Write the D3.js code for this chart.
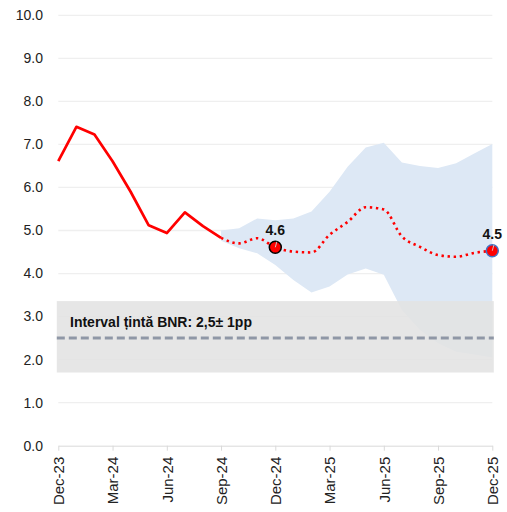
<!DOCTYPE html>
<html>
<head>
<meta charset="utf-8">
<script src="https://cdn.jsdelivr.net/npm/d3@7"></script>
<style>
  body { margin: 0; background: #fff; }
  svg { font-family: "Liberation Sans", Arial, sans-serif; }
</style>
</head>
<body>
<svg id="chart"></svg>
<script>
// months on the x axis
var months = ["Dec-23","Jan-24","Feb-24","Mar-24","Apr-24","May-24","Jun-24","Jul-24","Aug-24","Sep-24",
	"Oct-24","Nov-24","Dec-24","Jan-25","Feb-25","Mar-25","Apr-25","May-25","Jun-25","Jul-25",
	"Aug-25","Sep-25","Oct-25","Nov-25","Dec-25"];
var tickMonths = ["Dec-23","Mar-24","Jun-24","Sep-24","Dec-24","Mar-25","Jun-25","Sep-25","Dec-25"];
var yTicks = [0,1,2,3,4,5,6,7,8,9,10];

// realised inflation (Dec-23 .. Sep-24)
var actual = [6.61, 7.41, 7.23, 6.61, 5.90, 5.12, 4.94, 5.42, 5.10, 4.83];
// forecast (Sep-24 .. Dec-25)
var forecast = [4.83, 4.70, 4.82, 4.61, 4.51, 4.49, 4.90, 5.20, 5.54, 5.49, 4.86, 4.62, 4.43, 4.39, 4.48, 4.53];
var fanUpper = [5.00, 5.05, 5.28, 5.24, 5.28, 5.44, 5.90, 6.48, 6.93, 7.04, 6.58, 6.50, 6.45, 6.56, 6.79, 7.01];
var fanLower = [4.76, 4.59, 4.47, 4.20, 3.85, 3.56, 3.70, 3.98, 4.12, 3.97, 3.15, 2.69, 2.38, 2.18, 2.12, 2.05];

// target interval
var targetMid = 2.5, targetTop = 3.36, targetBottom = 1.70;
var targetText = "Interval \u021bint\u0103 BNR: 2,5\u00b1 1pp";

// labelled points
var labelled = [
	{ m: "Dec-24", v: 4.61, txt: "4.6", stroke: "#000" },
	{ m: "Dec-25", v: 4.53, txt: "4.5", stroke: "#4472c4" }
];

var W = 507, H = 512;
var svg = d3.select("#chart").attr("width", W).attr("height", H);

var x = d3.scalePoint().domain(months).range([58.3, 492.3]);
var y = d3.scaleLinear().domain([0, 10]).range([445.7, 15.3]);

//gridlines
svg.append("g").selectAll("line").data(yTicks.slice(1)).enter().append("line")
	.attr("x1", x("Dec-23")).attr("x2", x("Dec-25"))
	.attr("y1", function(d) { return y(d); }).attr("y2", function(d) { return y(d); })
	.style("stroke", "#efefef").style("stroke-width", 1.3);

//y labels
svg.append("g").selectAll("text").data(yTicks).enter().append("text")
	.attr("x", 43).attr("y", function(d) { return y(d); }).attr("dy", "0.35em")
	.attr("text-anchor", "end").style("font-size", "14px").style("fill", "#222")
	.text(function(d) { return d3.format(".1f")(d); });

//fan chart
var fanData = forecast.map(function(v, i) { return { m: months[9 + i], lo: fanLower[i], hi: fanUpper[i], v: v }; });
svg.append("path").datum(fanData)
	.attr("d", d3.area().x(function(d) { return x(d.m); }).y0(function(d) { return y(d.lo); }).y1(function(d) { return y(d.hi); }))
	.style("fill", "#dde8f5");

//target band
svg.append("rect")
	.attr("x", x("Dec-23") - 1.5).attr("width", x("Dec-25") - x("Dec-23") + 3)
	.attr("y", y(targetTop)).attr("height", y(targetBottom) - y(targetTop))
	.style("fill", "#e2e2e2").style("opacity", 0.88);
svg.append("line")
	.attr("x1", x("Dec-23") - 1.5).attr("x2", x("Dec-25") + 1.5)
	.attr("y1", y(targetMid)).attr("y2", y(targetMid))
	.style("stroke", "#8f97a6").style("stroke-width", 3).style("stroke-dasharray", "8,4");
svg.append("text").attr("x", 70).attr("y", 327)
	.style("font-size", "14px").style("font-weight", "bold").style("fill", "#111")
	.text(targetText);

//actual line
svg.append("path").datum(actual)
	.attr("d", d3.line().x(function(d, i) { return x(months[i]); }).y(function(d) { return y(d); }))
	.style("fill", "none").style("stroke", "#ff0000").style("stroke-width", 2.7)
	.style("stroke-linejoin", "round");

//forecast line
svg.append("path").datum(fanData)
	.attr("d", d3.line().curve(d3.curveMonotoneX).x(function(d) { return x(d.m); }).y(function(d) { return y(d.v); }))
	.style("fill", "none").style("stroke", "#ff0000").style("stroke-width", 2.6)
	.style("stroke-dasharray", "2.4,3.7");

//x axis
var xAxis = svg.append("g").attr("transform", "translate(0," + y(0) + ")")
	.call(d3.axisBottom(x).tickValues(tickMonths).tickSize(5).tickSizeOuter(0));
xAxis.select(".domain").style("stroke", "#d9d9d9");
xAxis.selectAll(".tick line").style("stroke", "#d9d9d9");
xAxis.selectAll(".tick text")
	.attr("transform", "rotate(-90)").attr("text-anchor", "end")
	.attr("x", -11).attr("y", 0).attr("dy", "0.35em")
	.style("font-size", "15px").style("fill", "#222").style("font-family", "\"Liberation Sans\", Arial, sans-serif");

//labelled markers
var mk = svg.append("g").selectAll("g").data(labelled).enter().append("g")
	.attr("transform", function(d) { return "translate(" + x(d.m) + "," + y(d.v) + ")"; });
mk.append("circle").attr("r", 6)
	.style("fill", "#ff0000").style("stroke", function(d) { return d.stroke; }).style("stroke-width", 1.5);
mk.append("line").attr("x1", 0).attr("y1", 0).attr("x2", 1.5).attr("y2", -5.5)
	.style("stroke", "#c8c8c8").style("stroke-width", 1);
mk.append("text").attr("y", -12).attr("text-anchor", "middle")
	.style("font-size", "14px").style("font-weight", "bold").style("fill", "#111")
	.text(function(d) { return d.txt; });
</script>
</body>
</html>
